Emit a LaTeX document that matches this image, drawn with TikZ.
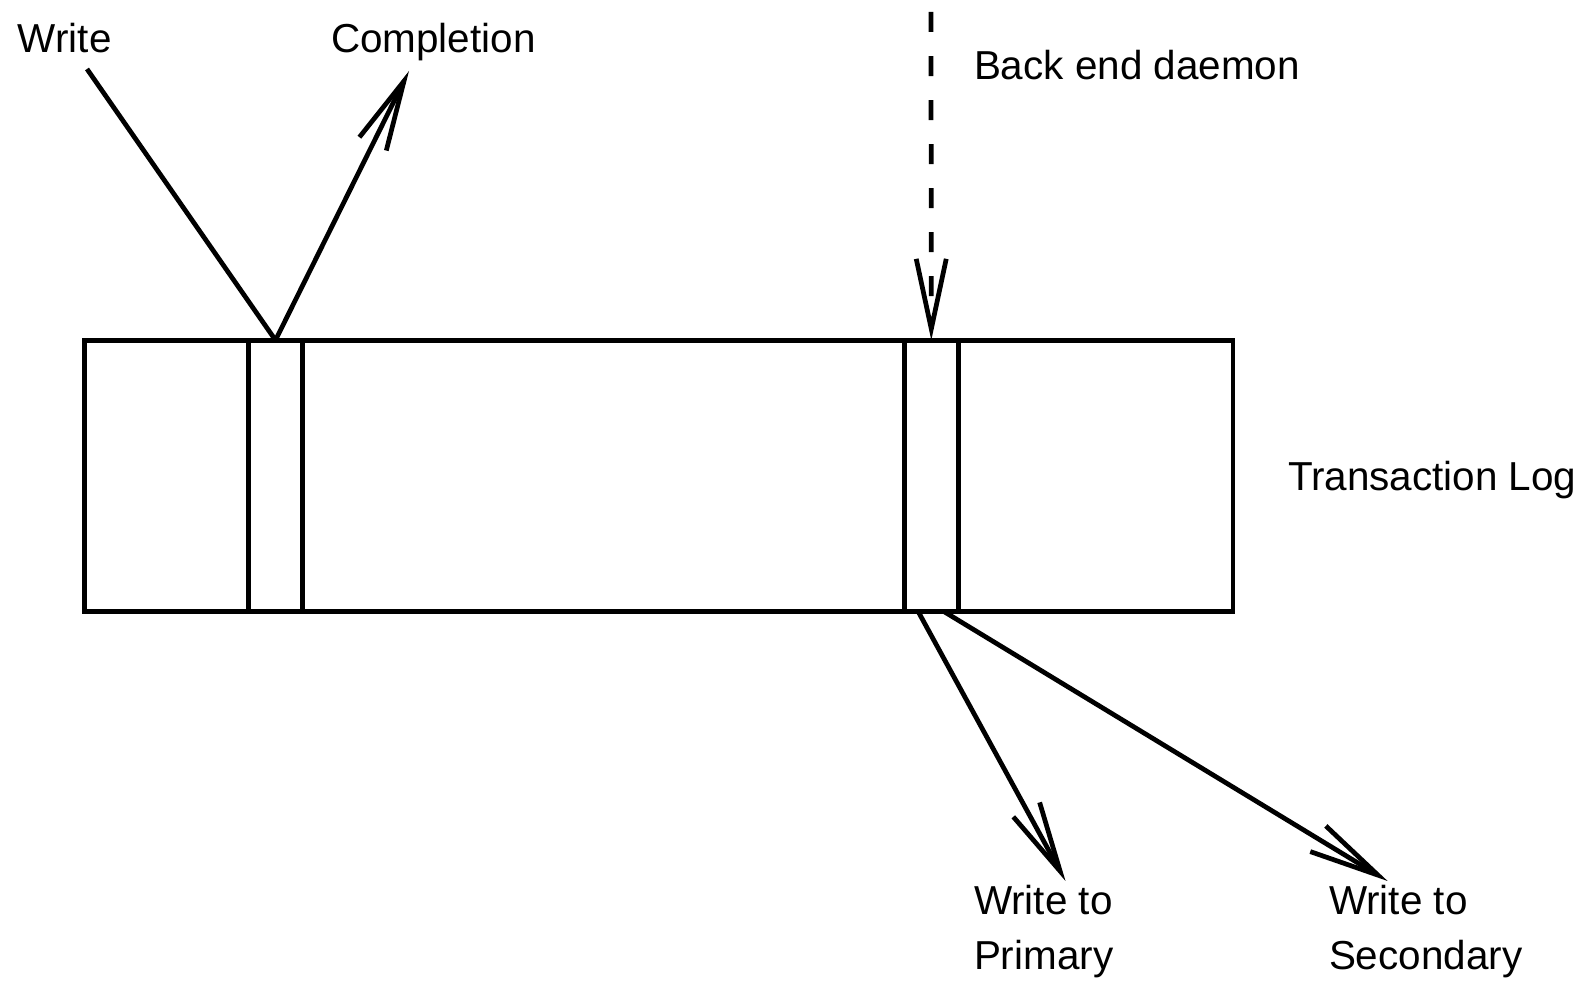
\documentclass[tikz,border=0pt]{standalone}
\usepackage{fontspec}
\setmainfont{Liberation Sans}
\usetikzlibrary{arrows.meta}

\begin{document}
\begin{tikzpicture}[x=0.01cm, y=-0.01cm,
    every node/.style={inner sep=0pt, outer sep=0pt},
    lbl/.style={anchor=base west, align=left,
      font=\fontsize{11.5}{15.6}\selectfont},
    frame/.style={draw, line width=1.35pt, rectangle,
      minimum height=2.714cm},
    conn/.style={line width=1.35pt},
    vtip/.style={-{Straight Barb[length=0.7cm, width=0.3cm, line width=1.35pt]}},
    dashline/.style={dash pattern=on 0.2cm off 0.24cm}]
  \useasboundingbox (0,0) rectangle (1588,995);

  % transaction log and its two highlighted slots
  \node[frame, minimum width=11.475cm] (log) at (658.9,476) {};
  \node[frame, minimum width=0.547cm] (slotA) at (275.5,476) {};
  \node[frame, minimum width=0.537cm] (slotB) at (931.3,476) {};

  % labels (two-line labels are placed by their last baseline)
  \node[lbl] (write) at (18,53) {Write};
  \node[lbl] (compl) at (331,53) {Completion};
  \node[lbl] (daemon) at (974,80) {Back end daemon};
  \node[lbl] (tlog) at (1288,491) {Transaction Log};
  \node[lbl] (prim) at (974,969) {Write to\\Primary};
  \node[lbl] (sec) at (1329,969) {Write to\\Secondary};

  % free ends of the connectors
  \coordinate (wstart) at (87,69);
  \coordinate (cend) at (409,71);
  \coordinate (dstart) at (931,12);
  \coordinate (pend) at (1065.5,881);
  \coordinate (send) at (1387.6,881);

  % front end: write in, completion out
  \draw[conn] (wstart) -- (slotA.north);
  \draw[conn, vtip] (slotA.north) -- (cend);

  % back end daemon picks up the entry
  \draw[conn, dashline, vtip] (dstart) -- (slotB.north);

  % writes to primary and secondary
  \draw[conn, vtip] ([xshift=-0.13cm]slotB.south) -- (pend);
  \draw[conn, vtip] ([xshift=0.13cm]slotB.south) -- (send);
\end{tikzpicture}
\end{document}
